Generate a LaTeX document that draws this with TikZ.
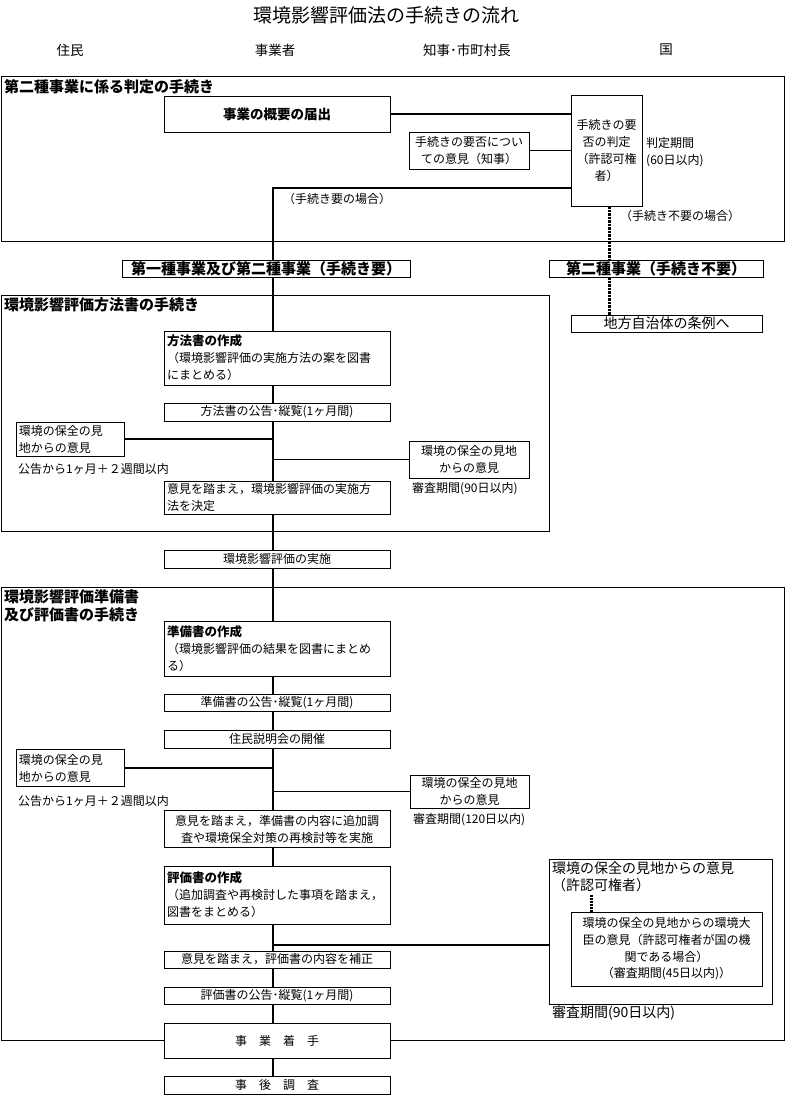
\documentclass[tikz,border=0pt]{standalone}
\usepackage{fontspec}
\setmainfont{Noto Sans CJK JP}
\begin{document}
\begin{tikzpicture}[x=1pt,y=-1pt,
  box/.style={draw,line width=0.9pt,fill=white,inner sep=0pt,align=center,font=\fontsize{12}{17}\selectfont},
  lbox/.style={box,align=left,inner xsep=3pt,text width=220pt},
  sect/.style={draw,line width=0.9pt,inner sep=0pt},
  conn/.style={line width=1.8pt},
  dots/.style={line width=3pt,dash pattern=on 2.5pt off 1pt},
  lbl/.style={inner sep=0pt,font=\fontsize{12}{17}\selectfont},
  hdr/.style={inner sep=0pt,font=\fontsize{13.5}{16}\selectfont},
  stitle/.style={inner sep=0pt,anchor=west,font=\fontsize{15}{18}\selectfont\bfseries,align=left},
  bbox/.style={box,font=\fontsize{15}{17}\selectfont\bfseries},
]
\useasboundingbox (0,0) rectangle (786,1096);
\fill[white] (0,0) rectangle (786,1096);

% title and column headers
\node[lbl,font=\fontsize{19}{22}\selectfont] (title) at (386,15) {環境影響評価法の手続きの流れ};
\node[hdr] (h1) at (70,50) {住民};
\node[hdr] (h2) at (275,50) {事業者};
\node[hdr] (h3) at (467,50) {知事･市町村長};
\node[hdr] (h4) at (666,50) {国};

% sections
\node[sect,minimum width=783,minimum height=165] (sec1) at (392.5,158.5) {};
\node[sect,minimum width=548,minimum height=236] (sec2) at (275,413) {};
\node[sect,minimum width=783,minimum height=453] (sec3) at (392.5,813.5) {};
\node[stitle] (t1) at (4,87) {第二種事業に係る判定の手続き};
\node[stitle] (t2) at (4,305) {環境影響評価方法書の手続き};
\node[stitle,anchor=north west] (t3) at (4,589) {環境影響評価準備書\\及び評価書の手続き};

% section 1
\node[box,minimum width=226,minimum height=36,font=\fontsize{13.5}{16}\selectfont\bfseries] (A) at (277,114) {事業の概要の届出};
\node[box,minimum width=71,minimum height=111] (J) at (606.5,150.5) {手続きの要\\否の判定\\（許認可権\\者）};
\node[box,minimum width=120,minimum height=37] (C) at (469,150.5) {手続きの要否につい\\ての意見（知事）};
\node[lbl,anchor=west] (jd1) at (646,143) {判定期間};
\node[lbl,anchor=west] (jd2) at (646,161) {(60日以内)};
\node[lbl,anchor=west] (yo) at (283,199) {（手続き要の場合）};
\node[lbl,anchor=west] (fuyo) at (620,216) {（手続き不要の場合）};

\node[bbox,minimum width=288,minimum height=17] (K1) at (266,268.5) {第一種事業及び第二種事業（手続き要）};
\node[bbox,minimum width=214,minimum height=17] (K2) at (656,268.5) {第二種事業（手続き不要）};
\node[box,minimum width=191,minimum height=17,font=\fontsize{14}{17}\selectfont] (L) at (666.5,323.5) {地方自治体の条例へ};

% section 2
\node[lbox,minimum height=54] (M1) at (277,358) {{\fontsize{12.5}{17}\selectfont\bfseries 方法書の作成}\\（環境影響評価の実施方法の案を図書\\にまとめる）};
\node[box,minimum width=226,minimum height=18] (M2) at (277,412) {方法書の公告･縦覧(1ヶ月間)};
\node[box,align=left,text width=102pt,inner xsep=3pt,minimum height=34] (R1) at (70,439) {環境の保全の見\\地からの意見};
\node[lbl,anchor=west] (k1) at (18,469) {公告から1ヶ月＋２週間以内};
\node[box,minimum width=120,minimum height=37] (R2) at (469,459.5) {環境の保全の見地\\からの意見};
\node[lbl,anchor=west] (s1) at (412,489) {審査期間(90日以内)};
\node[lbox,minimum height=33] (M3) at (277,497.5) {意見を踏まえ，環境影響評価の実施方\\法を決定};
\node[box,minimum width=226,minimum height=18] (M4) at (277,559) {環境影響評価の実施};

% section 3
\node[lbox,minimum height=55] (N1) at (277,648.5) {{\fontsize{12.5}{17}\selectfont\bfseries 準備書の作成}\\（環境影響評価の結果を図書にまとめ\\る）};
\node[box,minimum width=226,minimum height=17] (N2) at (277,702.5) {準備書の公告･縦覧(1ヶ月間)};
\node[box,minimum width=226,minimum height=18] (N3) at (277,739) {住民説明会の開催};
\node[box,align=left,text width=102pt,inner xsep=3pt,minimum height=37] (R3) at (70,768) {環境の保全の見\\地からの意見};
\node[lbl,anchor=west] (k2) at (18,801) {公告から1ヶ月＋２週間以内};
\node[box,minimum width=119,minimum height=33] (R4) at (469.5,791.5) {環境の保全の見地\\からの意見};
\node[lbl,anchor=west] (s2) at (413,820) {審査期間(120日以内)};
\node[box,minimum width=226,minimum height=37] (N4) at (277,829) {意見を踏まえ，準備書の内容に追加調\\査や環境保全対策の再検討等を実施};
\node[lbox,minimum height=58] (N5) at (277,895) {{\fontsize{12.5}{17}\selectfont\bfseries 評価書の作成}\\（追加調査や再検討した事項を踏まえ，\\図書をまとめる）};

\node[box,minimum width=223,minimum height=145] (R5) at (660.5,931.5) {};
\node[lbl,anchor=west,font=\fontsize{14}{17}\selectfont] (r5a) at (552,868) {環境の保全の見地からの意見};
\node[lbl,anchor=west,font=\fontsize{14}{17}\selectfont] (r5b) at (552,885) {（許認可権者）};
\node[box,minimum width=191,minimum height=74,font=\fontsize{12}{16.7}\selectfont] (R6) at (666.5,949) {環境の保全の見地からの環境大\\臣の意見（許認可権者が国の機\\関である場合）\\（審査期間(45日以内)）};
\node[lbl,anchor=west,font=\fontsize{14}{17}\selectfont] (s3) at (552,1013) {審査期間(90日以内)};

\node[box,minimum width=226,minimum height=17] (N6) at (277,959.5) {意見を踏まえ，評価書の内容を補正};
\node[box,minimum width=226,minimum height=17] (N7) at (277,995.5) {評価書の公告･縦覧(1ヶ月間)};
\node[box,minimum width=226,minimum height=35] (N8) at (277,1040.5) {事　業　着　手};
\node[box,minimum width=226,minimum height=18] (N9) at (277,1085) {事　後　調　査};

% connectors
\coordinate (sp) at (273,0);
\draw[conn] (A.east) -- (A.east -| J.west);
\draw[conn] (C.east) -- (C.east -| J.west);
\draw[conn] ([yshift=-37.5pt]J.west) -| (K1.north -| sp);
\draw[dots] ([xshift=2.5pt]J.south) -- ([xshift=2.5pt]J.south |- K2.north);
\draw[dots] ([xshift=2.5pt]J.south |- K2.south) -- ([xshift=2.5pt]J.south |- L.north);

\draw[conn] (K1.south -| sp) -- (M1.north -| sp);
\draw[conn] (M1.south -| sp) -- (M2.north -| sp);
\draw[conn] (M2.south -| sp) -- (M3.north -| sp);
\draw[conn] (R1.east) -- (R1.east -| sp);
\draw[conn] (R2.west) -- (R2.west -| sp);
\draw[conn] (M3.south -| sp) -- (M4.north -| sp);
\draw[conn] (M4.south -| sp) -- (N1.north -| sp);
\draw[conn] (N1.south -| sp) -- (N2.north -| sp);
\draw[conn] (N2.south -| sp) -- (N3.north -| sp);
\draw[conn] (N3.south -| sp) -- (N4.north -| sp);
\draw[conn] (R3.east) -- (R3.east -| sp);
\draw[conn] (R4.west) -- (R4.west -| sp);
\draw[conn] (N4.south -| sp) -- (N5.north -| sp);
\draw[conn] (N5.south -| sp) -- (N6.north -| sp);
\coordinate (b5) at (273,945);
\draw[conn] (b5) -- (b5 -| R5.west);
\coordinate (d5) at (591,895);
\draw[line width=3pt,dash pattern=on 2pt off 1pt] (d5) -- (d5 |- R6.north);
\draw[conn] (N6.south -| sp) -- (N7.north -| sp);
\draw[conn] (N7.south -| sp) -- (N8.north -| sp);
\draw[conn] (N8.south -| sp) -- (N9.north -| sp);
\end{tikzpicture}
\end{document}
